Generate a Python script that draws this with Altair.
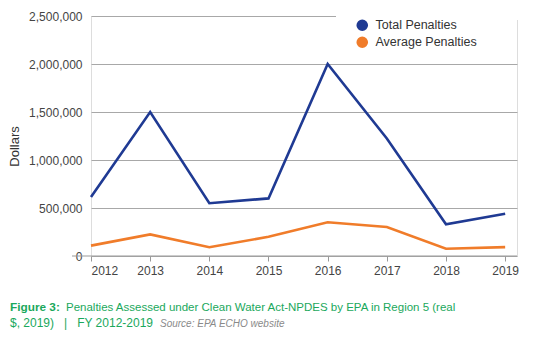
import altair as alt
import pandas as pd

years = [2012, 2013, 2014, 2015, 2016, 2017, 2018, 2019]
total_penalties = [615000, 1500000, 550000, 600000, 2000000, 1225000, 330000, 440000]
average_penalties = [108000, 225000, 92000, 200000, 352000, 302000, 75000, 92000]
series_names = ["Total Penalties", "Average Penalties"]
series_colors = ["#1f3a93", "#f07c2a"]
y_ticks = [0, 500000, 1000000, 1500000, 2000000, 2500000]

caption_bold = "Figure 3:"
caption_line1 = "Penalties Assessed under Clean Water Act-NPDES by EPA in Region 5 (real"
caption_line2 = "$, 2019)\u00a0\u00a0\u00a0|\u00a0\u00a0\u00a0FY 2012-2019"
caption_source = "Source: EPA ECHO website"

FONT = "Liberation Sans"
GREEN = "#1aa85c"

rows = []
for name, vals in zip(series_names, [total_penalties, average_penalties]):
    for y, v in zip(years, vals):
        rows.append({"Year": y, "Value": v, "Series": name})
df = pd.DataFrame(rows)

W, H = 426, 240

x_enc = alt.X("Year:Q",
              scale=alt.Scale(domain=[2012, 2019.2], nice=False, zero=False),
              axis=alt.Axis(values=years, format="d", title=None, grid=False,
                            domain=False, ticks=True, tickSize=5, tickColor="#999999",
                            labelPadding=4, labelFontSize=12, labelColor="#444444",
                            labelFont=FONT))
y_enc = alt.Y("Value:Q",
              scale=alt.Scale(domain=[0, 2500000], nice=False),
              axis=alt.Axis(values=y_ticks, title="Dollars",
                            domain=False, ticks=False, grid=True,
                            gridColor="#a8a8a8", gridWidth=1,
                            labelPadding=9, labelFontSize=12, labelColor="#444444",
                            labelFont=FONT,
                            labelExpr="datum.value == 0 ? '0\u00a0\u00a0\u00a0\u00a0\u00a0\u00a0' : format(datum.value, ',')",
                            titleFont=FONT, titleFontSize=13, titleFontWeight="normal",
                            titleColor="#333333", titleX=-70, titleY=130,
                            titleAngle=270, titleAlign="center"))

color_scale = alt.Scale(domain=series_names, range=series_colors)

legend_pts = alt.Chart(df).mark_point(filled=True, size=0).encode(
    x=x_enc, y=y_enc,
    color=alt.Color("Series:N", scale=color_scale,
                    legend=alt.Legend(title=None, orient="none", legendX=265, legendY=3,
                                      symbolType="circle", symbolSize=135,
                                      symbolStrokeWidth=0, symbolOpacity=1,
                                      labelFont=FONT, labelFontSize=12.5,
                                      labelColor="#333333", labelOffset=7,
                                      rowPadding=4, padding=0)),
)

lines = alt.Chart(df).mark_line(strokeWidth=2.6).encode(
    x="Year:Q", y="Value:Q",
    color=alt.Color("Series:N", scale=color_scale),
)

one = pd.DataFrame({"k": [0]})

mask = alt.Chart(one).mark_rect(color="white").encode(
    x=alt.value(245), x2=alt.value(W + 2), y=alt.value(-4), y2=alt.value(4)
)

baseline = alt.Chart(one).mark_rule(color="#999999", strokeWidth=1).encode(
    x=alt.value(-19), x2=alt.value(W), y=alt.datum(0)
)

def text_layer(txt, x, y, **kw):
    return alt.Chart(pd.DataFrame({"t": [txt]})).mark_text(
        align="left", baseline="alphabetic", font=FONT, **kw
    ).encode(x=alt.value(x), y=alt.value(y), text="t:N")

cap1b = text_layer(caption_bold, -81, 295, fontSize=11.8, fontWeight="bold", color=GREEN)
cap1 = text_layer(caption_line1, -25, 295, fontSize=11.5, color=GREEN)
cap2 = text_layer(caption_line2, -81, 311, fontSize=12, color=GREEN)
cap2s = text_layer(caption_source, 69, 311, fontSize=10, fontStyle="italic", color="#8a8a8a")

chart = alt.layer(legend_pts, mask, baseline, lines, cap1b, cap1, cap2, cap2s).properties(
    width=W, height=H,
    padding={"left": 91, "top": 16, "right": 23, "bottom": 87},
    autosize=alt.AutoSizeParams(type="none"),
).configure_view(stroke=None).configure(background="white")

chart.save("out.html", embed_options={"renderer": "svg", "actions": False})
